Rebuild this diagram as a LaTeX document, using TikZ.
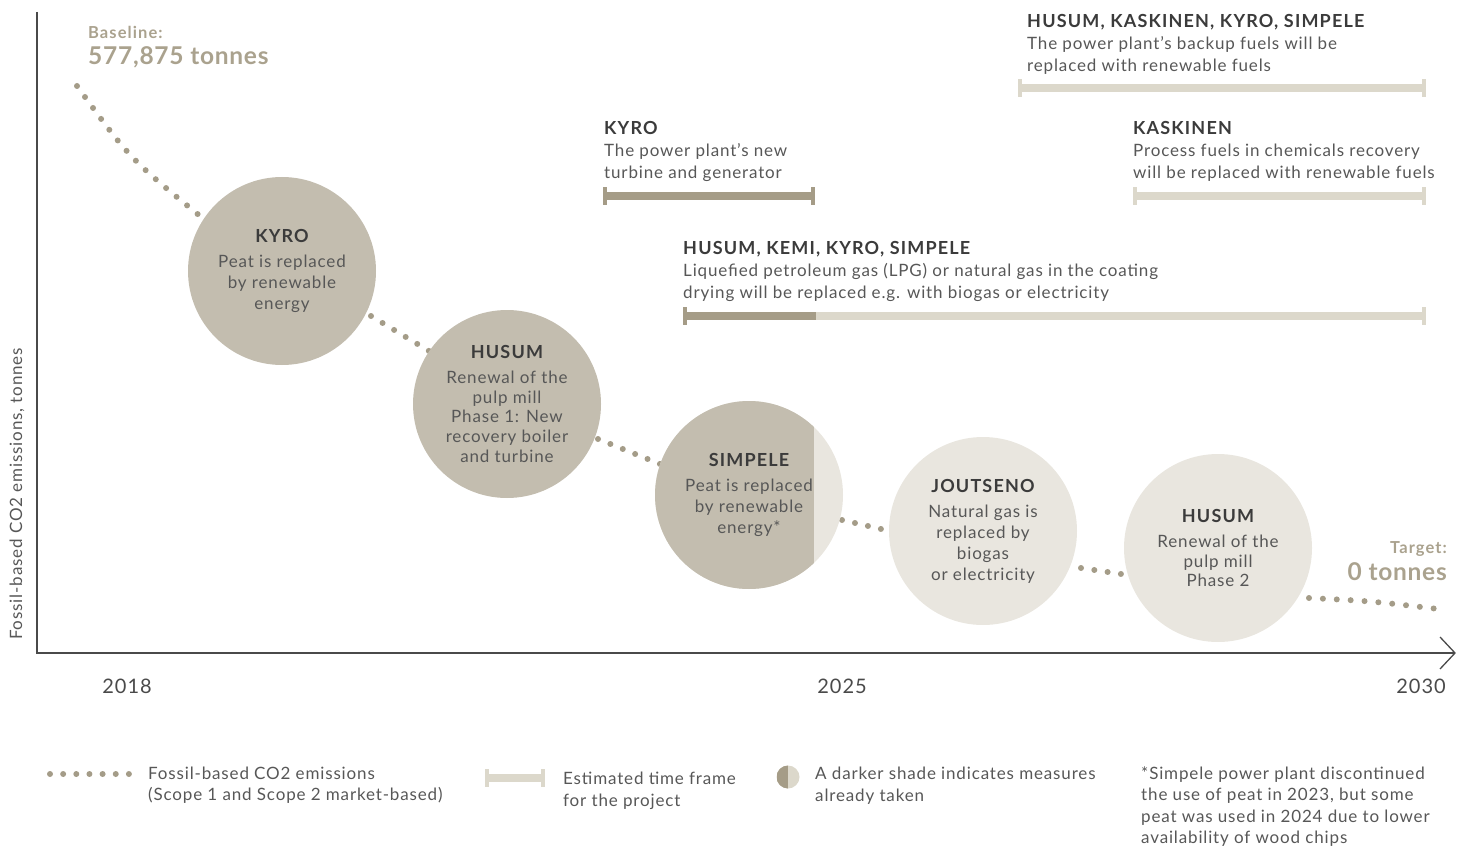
\documentclass[tikz,border=0pt]{standalone}
\usepackage{fontspec}
\setmainfont{Lato}[LetterSpace=5, BoldFeatures={LetterSpace=6.5}]
\newfontfamily\bigfam{Lato}[LetterSpace=3]
\definecolor{circdark}{HTML}{C3BDAF}
\definecolor{circlight}{HTML}{E9E6DF}
\definecolor{bardark}{HTML}{A59C87}
\definecolor{barlight}{HTML}{DCD8CB}
\definecolor{dotc}{HTML}{A49C88}
\definecolor{accent}{HTML}{AAA28E}
\definecolor{headc}{HTML}{3B3B3B}
\definecolor{txtc}{HTML}{575757}
\definecolor{axisc}{HTML}{4A4A4A}
\newcommand{\tbar}[4]{%
  \fill[#4] (#1,#3-4) rectangle (#2,#3+4);
  \fill[#4] (#1-2,#3-9) rectangle (#1+2,#3+9);
  \fill[#4] (#2-2,#3-9) rectangle (#2+2,#3+9);}
\newcommand{\hd}[1]{{\color{headc}\bfseries\fontsize{18}{21}\selectfont #1}}
\begin{document}
\begin{tikzpicture}[x=1pt,y=-1pt,
  txt/.style={font=\fontsize{17}{22}\selectfont, text=txtc, inner sep=0pt, align=left, anchor=north west},
  bubble/.style={circle, minimum size=188pt, inner sep=0pt, font=\fontsize{17}{21}\selectfont, text=txtc, align=center},
  emis/.style={draw=dotc, line width=6pt, line cap=round, dash pattern=on 0pt off #1},
  axis/.style={draw=axisc, line width=1.3pt},
  year/.style={font=\fontsize{20}{24}\selectfont, text=axisc, inner sep=0pt},
  big/.style={font=\bigfam\bfseries\fontsize{24.5}{30}\selectfont, text=accent, inner sep=0pt},
  small/.style={font=\bfseries\fontsize{16.5}{19}\selectfont, text=accent, inner sep=0pt}]
\useasboundingbox (0,0) rectangle (1465,848);

% axes
\coordinate (ytop) at (37,12);
\coordinate (O) at (37,653);
\coordinate (xend) at (1455,653);
\draw[axis] (ytop) -- (O) -- (xend);
\draw[axis] (1440,637) -- (xend) -- (1440,669);
\node[font=\fontsize{17}{20}\selectfont, text=txtc, rotate=90, inner sep=0pt] (ylab) at (17,494) {Fossil-based CO2 emissions, tonnes};
\node[year] (y2018) at (127,686) {2018};
\node[year] (y2025) at (842,686) {2025};
\node[year] (y2030) at (1421,686) {2030};

% baseline / target
\node[small, anchor=base west] (bl1) at (88,38.5) {Baseline:};
\node[big, anchor=base west] (bl2) at (88,65) {577,875 tonnes};
\node[small, anchor=base east] (tg1) at (1447,553.5) {Target:};
\node[big, anchor=base east] (tg2) at (1447,580) {0 tonnes};

% emission dots
\draw[emis=13.6pt] (77,86) .. controls (129.7,158.5) .. (200,216);
\draw[emis=13.5pt] (371,316) -- (429,351);
\draw[emis=13.35pt] (598,439) -- (660,464);
\draw[emis=13.3pt] (842,520) -- (881,529);
\draw[emis=13.45pt] (1081,568) -- (1121,574);
\draw[emis=13.9pt] (1309,598) .. controls (1370,601) .. (1434,608.5);

% bubbles
\node[bubble, fill=circdark] (kyro) at (282,271) {\hd{KYRO}\\[4pt]Peat is replaced\\by renewable\\energy};
\node[bubble, fill=circdark, font=\fontsize{17}{19.8}\selectfont] (husum) at (507,404) {\hd{HUSUM}\\[5pt]Renewal of the\\pulp mill\\Phase 1: New\\recovery boiler\\and turbine};
\node[bubble, fill=circlight, path picture={\fill[circdark] ([yshift=-10pt]path picture bounding box.south west) rectangle ([xshift=65pt,yshift=10pt]path picture bounding box.north);}] (simpele) at (749,495) {\hd{SIMPELE}\\[4pt]Peat is replaced\\by renewable\\energy*};
\node[bubble, fill=circlight] (joutseno) at (983,531) {\hd{JOUTSENO}\\[4pt]Natural gas is\\replaced by\\biogas\\or electricity};
\node[bubble, fill=circlight, font=\fontsize{17}{19.5}\selectfont] (husum2) at (1218,548) {\hd{HUSUM}\\[6pt]Renewal of the\\pulp mill\\Phase 2};

% time frames
\tbar{1020}{1424}{88}{barlight}
\tbar{1135}{1424}{196}{barlight}
\tbar{605}{813}{196}{bardark}
\tbar{685}{1424}{316}{barlight}
\fill[bardark] (685,312) rectangle (816,320);
\fill[bardark] (683,307) rectangle (687,325);

\node[txt] (a1) at (1027,14) {\hd{HUSUM, KASKINEN, KYRO, SIMPELE}\\The power plant’s backup fuels will be\\replaced with renewable fuels};
\node[txt] (a2) at (1133,121) {\hd{KASKINEN}\\Process fuels in chemicals recovery\\will be replaced with renewable fuels};
\node[txt] (a3) at (604,121) {\hd{KYRO}\\The power plant’s new\\turbine and generator};
\node[txt] (a4) at (683,241) {\hd{HUSUM, KEMI, KYRO, SIMPELE}\\Liquefied petroleum gas (LPG) or natural gas in the coating\\drying will be replaced e.g. with biogas or electricity};

% legend
\draw[emis=13.15pt] (50,774) -- (129,774);
\node[txt, font=\fontsize{17}{21.5}\selectfont] (l1) at (148,766.5) {Fossil-based CO2 emissions\\(Scope 1 and Scope 2 market-based)};
\tbar{487}{543}{778}{barlight}
\node[txt, font=\fontsize{17}{22}\selectfont] (l2) at (563,771.5) {Estimated time frame\\for the project};
\node[circle, minimum size=23pt, inner sep=0pt, fill=barlight, path picture={\fill[bardark] ([yshift=-2pt]path picture bounding box.south west) rectangle ([yshift=2pt]path picture bounding box.north);}] (l3i) at (788,777) {};
\node[txt, font=\fontsize{17}{22}\selectfont] (l3) at (815,766.5) {A darker shade indicates measures\\already taken};
\node[txt, font=\fontsize{17}{21.3}\selectfont] (fn) at (1141,766.5) {*Simpele power plant discontinued\\the use of peat in 2023, but some\\peat was used in 2024 due to lower\\availability of wood chips};
\end{tikzpicture}
\end{document}
